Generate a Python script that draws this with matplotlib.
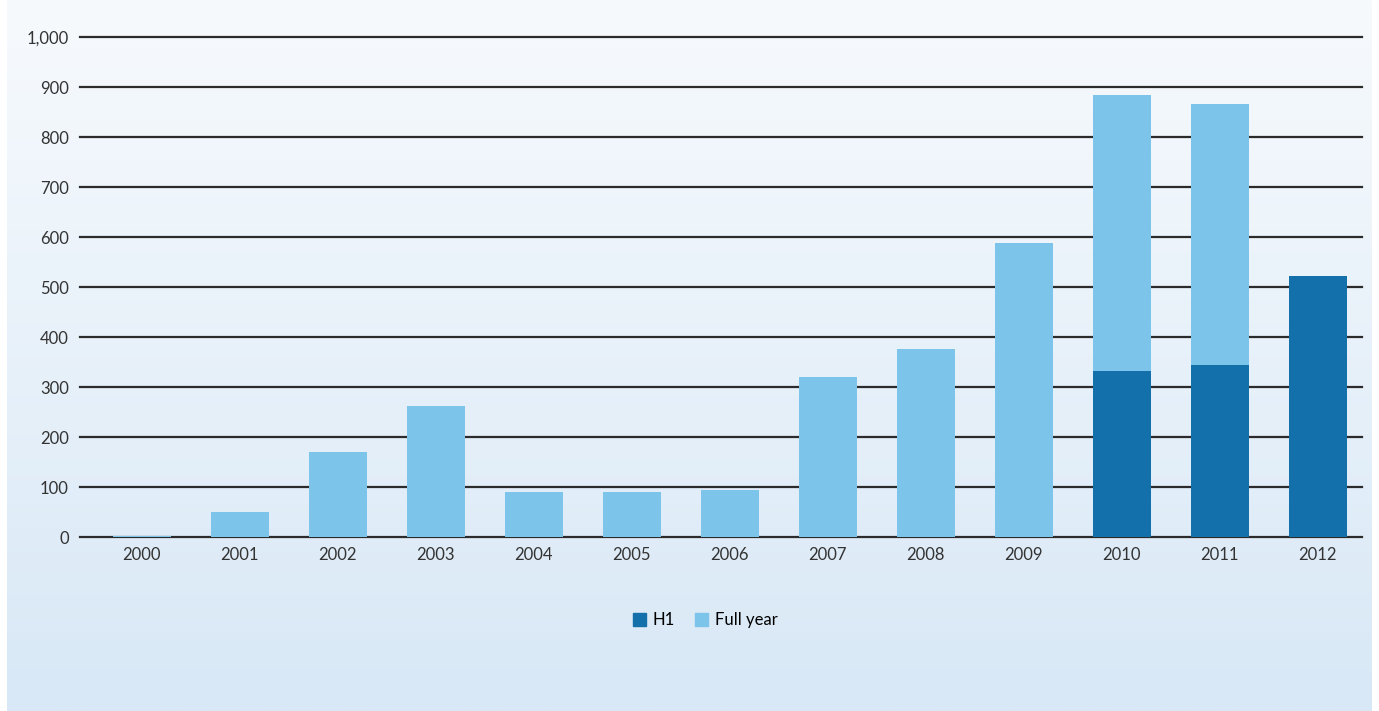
import matplotlib
matplotlib.use("Agg")
import matplotlib.pyplot as plt
import numpy as np
from matplotlib.colors import LinearSegmentedColormap
from matplotlib.patches import Patch
from matplotlib.ticker import FuncFormatter

years = ["2000", "2001", "2002", "2003", "2004", "2005", "2006",
         "2007", "2008", "2009", "2010", "2011", "2012"]
full_year = [3, 50, 170, 263, 91, 91, 95, 320, 376, 588, 884, 867, 0]
h1 = [0, 0, 0, 0, 0, 0, 0, 0, 0, 0, 332, 344, 523]
yticks = [0, 100, 200, 300, 400, 500, 600, 700, 800, 900, 1000]

W, H = 1379, 711
fig = plt.figure(figsize=(W / 100, H / 100), dpi=100)
fig.patch.set_facecolor("white")

# gradient background panel
bg = fig.add_axes([7 / W, 0, (1372 - 7) / W, 1], zorder=-10)
cmap = LinearSegmentedColormap.from_list("bg", ["#f7fafd", "#d8e8f6"])
grad = np.linspace(0, 1, 256).reshape(-1, 1)
bg.imshow(grad, aspect="auto", cmap=cmap, extent=[0, 1, 0, 1], origin="upper")
bg.set_axis_off()

ax = fig.add_axes([80 / W, 1 - 537 / H, (1362 - 80) / W, (537 - 37) / H])
ax.patch.set_alpha(0)

x = np.arange(len(years))
width = 0.59
ax.bar(x, full_year, width=width, color="#7cc4e9", zorder=2, label="Full year")
ax.bar(x, h1, width=width, color="#1470aa", zorder=3, label="H1")

ax.set_xlim(-0.63, 12.45)
ax.set_ylim(0, 1000)
ax.set_yticks(yticks)
ax.yaxis.set_major_formatter(FuncFormatter(lambda v, p: f"{int(v):,}"))
ax.set_xticks(x)
ax.set_xticklabels(years)

ax.grid(axis="y", color="#2b2b2b", linewidth=1.6, zorder=1)
for gl in ax.get_ygridlines():
    gl.set_clip_on(False)
ax.set_axisbelow(True)
for s in ax.spines.values():
    s.set_visible(False)
ax.tick_params(axis="both", length=0, labelsize=12, colors="#333333")
ax.tick_params(axis="y", pad=8)
ax.tick_params(axis="x", pad=7)
for lab in ax.get_xticklabels() + ax.get_yticklabels():
    lab.set_family(["Lato", "DejaVu Sans"])

handles = [Patch(color="#1470aa", label="H1"), Patch(color="#7cc4e9", label="Full year")]
fig.legend(handles=handles, loc="center", bbox_to_anchor=(705 / W, 1 - 620 / H),
           ncol=2, frameon=False, handlelength=0.8, handleheight=0.8,
           handletextpad=0.4, columnspacing=1.2,
           prop={"family": ["Lato", "DejaVu Sans"], "size": 12})

fig.savefig("out.png", dpi=100)
